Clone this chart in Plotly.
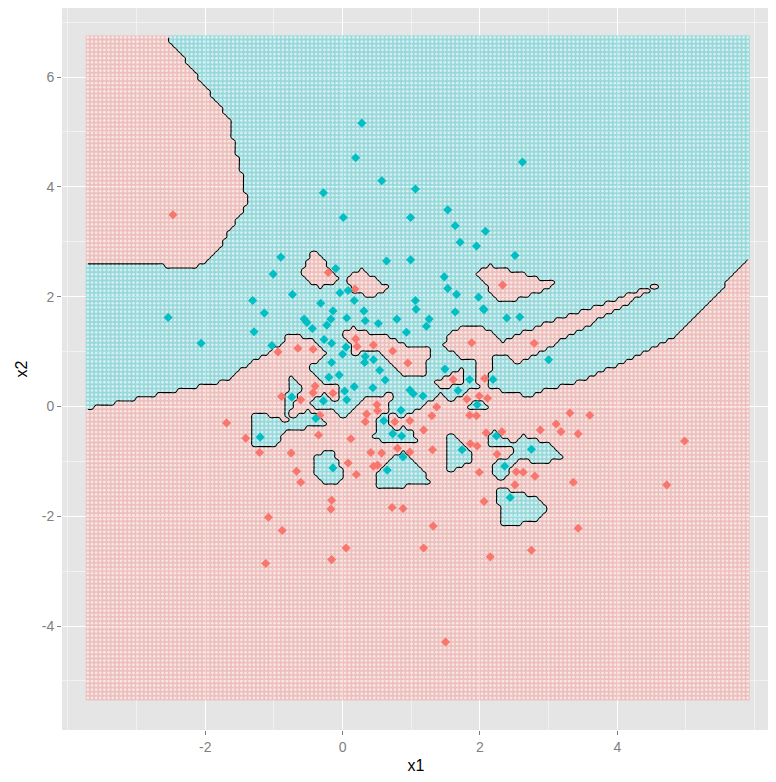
import numpy as np
import plotly.graph_objects as go

# ---- training points (x1, x2) ----
teal_x1 = [0.28, 0.19, 0.57, 1.06, -0.28, 0.01, 0.99, -0.90, 0.64, 0.99, -0.10, -1.01,
           0.08, -0.04, -0.73, -1.31, -0.32, 0.17, 1.06, 2.62, 1.53, 1.64, 2.08, 1.71,
           1.95, 2.51, 1.48, 1.53, 1.66, 1.98, 2.05, -1.14, -0.14, 0.31, -0.56, -0.52,
           -0.17, -0.23, 0.06, 0.33, 0.52, 0.79, 0.93, -0.44, -1.29, -2.06, -0.27, -0.16,
           -1.03, 0.05, 0.00, 0.33, 0.45, 0.32, -0.16, 0.54, -0.05, -0.20, 0.62, 0.17,
           0.44, 0.03, -0.74, -0.28, 0.06, 0.85, -0.39, 0.60, 1.07, 1.64, 2.06, 2.39,
           2.58, 1.26, 1.22, 3.00, 1.49, 1.85, 2.19, 0.98, 1.03, 1.17, 1.68, 1.96,
           -1.20, -0.14, 0.73, 0.86, 0.65, 0.88, 1.74, 2.24, 2.75, 2.36, 2.44, -2.54]
teal_x2 = [5.16, 4.53, 4.11, 3.96, 3.89, 3.44, 3.44, 2.72, 2.65, 2.67, 2.51, 2.41,
           2.11, 2.07, 2.04, 1.93, 1.88, 1.93, 1.93, 4.45, 3.58, 3.29, 3.19, 2.99,
           2.92, 2.75, 2.36, 2.15, 2.04, 1.99, 1.78, 1.70, 1.74, 1.74, 1.59, 1.53,
           1.59, 1.48, 1.61, 1.56, 1.51, 1.59, 1.35, 1.42, 1.36, 1.15, 1.22, 1.15,
           1.11, 1.08, 0.95, 0.91, 0.85, 0.80, 0.80, 0.66, 0.57, 0.53, 0.48, 0.36,
           0.34, 0.28, 0.17, 0.10, 0.12, -0.07, -0.22, -0.26, 1.77, 1.72, 1.76, 1.61,
           1.63, 1.59, 1.46, 0.85, 0.68, 0.49, 0.49, 0.30, 0.23, 0.19, 0.29, 0.03,
           -0.56, -1.12, -0.50, -0.54, -1.16, -0.92, -0.79, -0.54, -0.78, -1.09, -1.66, 1.62]

red_x1 = [-0.21, 0.18, 2.33, 0.19, -0.94, -0.65, -0.43, 0.21, 0.45, 0.73, 0.95, -0.40,
          -0.43, -0.89, -0.61, -0.14, 0.50, 0.51, -0.33, 0.35, -1.69, 0.76, 1.88, 2.79,
          1.61, 2.07, 1.81, 1.99, 2.11, 1.37, 1.30, 1.85, 1.95, 3.31, 3.60, 0.98,
          3.11, -1.41, -1.21, -0.75, -0.35, 0.12, 0.33, 0.08, -0.67, -0.61, 0.20, 0.41,
          0.57, 0.45, 0.51, 0.80, -0.16, -0.17, 0.72, 0.88, -1.08, -0.88, 0.05, -0.16,
          1.18, 0.98, 1.31, 1.86, 1.96, 2.09, 2.32, 2.88, 3.18, 3.43, 2.25, 1.99,
          2.53, 2.63, 2.80, 2.51, 3.36, 2.06, 1.32, 3.43, 1.18, 2.75, 2.15, 4.98,
          4.72, -1.12, 1.50, -2.47]
red_x2 = [2.44, 2.14, 2.21, 1.23, 0.99, 1.06, 1.04, 1.09, 1.12, 1.01, 0.79, 0.37,
          0.25, 0.18, 0.12, 0.24, 0.03, -0.08, -0.16, -0.14, -0.30, -0.28, 1.16, 1.15,
          0.49, 0.51, 0.13, 0.19, 0.15, -0.01, -0.17, -0.16, -0.17, -0.12, -0.16, -0.26,
          -0.32, -0.58, -0.84, -0.85, -0.52, -0.59, -0.28, -1.03, -1.18, -1.38, -1.24, -0.84,
          -0.85, -1.09, -1.07, -0.76, -1.71, -1.87, -1.84, -1.86, -2.02, -2.26, -2.58, -2.79,
          -0.43, -0.83, -0.79, -0.68, -0.72, -0.48, -0.46, -0.43, -0.46, -0.50, -0.87, -1.20,
          -1.19, -1.20, -1.27, -1.43, -1.38, -1.73, -2.18, -2.22, -2.58, -2.62, -2.74, -0.63,
          -1.43, -2.86, -4.29, 3.49]

# ---- prediction grid extent ----
grid_x1_range = [-3.71, 5.90]
grid_x2_range = [-5.31, 6.72]
grid_n = 160

x_ticks = [-2, 0, 2, 4]
x_tick_labels = ["-2", "0", "2", "4"]
y_ticks = [-4, -2, 0, 2, 4, 6]
y_tick_labels = ["-4", "-2", "0", "2", "4", "6"]

RED = "#F8766D"
TEAL = "#00BFC4"

# 1-nearest-neighbour classification of the grid
gx = np.linspace(grid_x1_range[0], grid_x1_range[1], grid_n)
gy = np.linspace(grid_x2_range[0], grid_x2_range[1], grid_n)
GX, GY = np.meshgrid(gx, gy)
tx = np.array(red_x1 + teal_x1)
ty = np.array(red_x2 + teal_x2)
lab = np.array([0] * len(red_x1) + [1] * len(teal_x1))
d2 = (GX.ravel()[:, None] - tx[None, :]) ** 2 + (GY.ravel()[:, None] - ty[None, :]) ** 2
cls = lab[np.argmin(d2, axis=1)].reshape(GX.shape)

fig = go.Figure()

fig.add_trace(go.Heatmap(
    x=gx, y=gy, z=cls, zmin=0, zmax=1,
    colorscale=[[0, RED], [1, TEAL]], showscale=False,
    opacity=0.34, hoverinfo="skip",
))
fig.add_trace(go.Scatter(
    x=GX.ravel(), y=GY.ravel(), mode="markers",
    marker=dict(size=2.8, color="rgba(255,255,255,0.6)", line=dict(width=0)),
    hoverinfo="skip", showlegend=False,
))
fig.add_trace(go.Contour(
    x=gx, y=gy, z=cls,
    contours=dict(start=0.5, end=0.5, size=1, coloring="none"),
    line=dict(color="black", width=1.1), showscale=False, hoverinfo="skip",
))
fig.add_trace(go.Scatter(
    x=red_x1, y=red_x2, mode="markers",
    marker=dict(symbol="diamond", size=7, color=RED, line=dict(width=0)),
    showlegend=False, hoverinfo="skip",
))
fig.add_trace(go.Scatter(
    x=teal_x1, y=teal_x2, mode="markers",
    marker=dict(symbol="diamond", size=7, color=TEAL, line=dict(width=0)),
    showlegend=False, hoverinfo="skip",
))

axis_common = dict(
    showline=False, zeroline=False, automargin=False,
    showgrid=True, gridcolor="white", gridwidth=1.1,
    ticks="outside", ticklen=4, tickcolor="#7F7F7F", tickwidth=1,
    tickfont=dict(family="Liberation Sans Narrow, Liberation Sans, Arial", size=14, color="#7F7F7F"),
    minor=dict(dtick=1, showgrid=True, gridcolor="#F2F2F2", gridwidth=0.5, ticks=""),
    title_font=dict(family="Liberation Sans, Arial", size=16, color="black"),
)

# page body has an 8px margin, so the figure is sized to sit inside the window
fig.update_layout(
    width=768, height=766,
    margin=dict(l=54, r=6, t=0, b=44),
    paper_bgcolor="white", plot_bgcolor="#E5E5E5",
    showlegend=False,
    xaxis=dict(range=[-4.086, 6.224], tickvals=x_ticks, ticktext=x_tick_labels,
               title=dict(text="x1", standoff=8), **axis_common),
    yaxis=dict(range=[-5.894, 7.257], tickvals=y_ticks, ticktext=y_tick_labels,
               title=dict(text="x2", standoff=10), **axis_common),
)

fig.write_html("out.html")
